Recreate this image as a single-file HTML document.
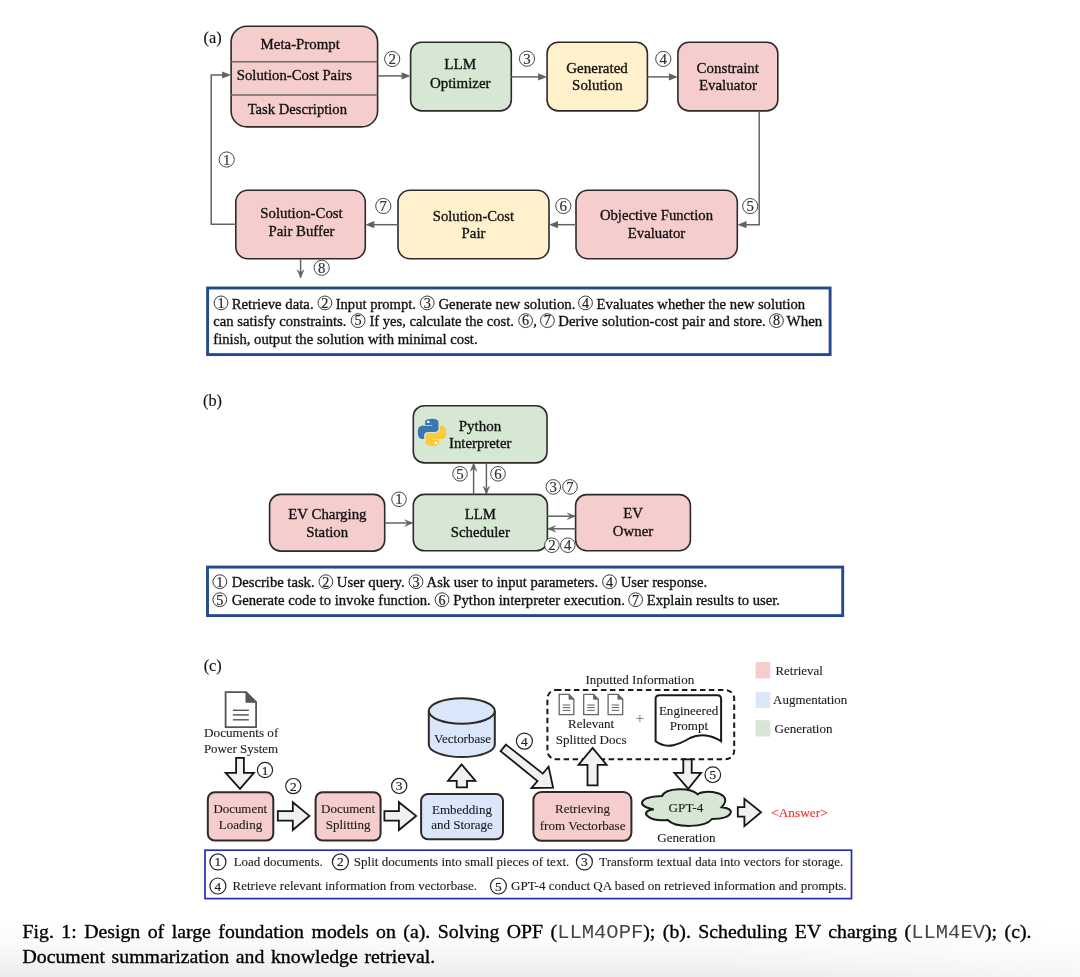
<!DOCTYPE html>
<html><head><meta charset="utf-8"><style>
html,body{margin:0;padding:0;}
body{width:1080px;height:977px;overflow:hidden;position:relative;background:#fff;font-family:"Liberation Serif", serif;}
.shade{position:absolute;left:0;top:922px;width:1080px;height:55px;background:linear-gradient(to bottom,rgba(0,0,0,0) 0%,rgba(0,0,0,0.015) 35%,rgba(0,0,0,0.045) 70%,rgba(0,0,0,0.08) 100%);-webkit-mask-image:linear-gradient(to right,#000 0%,#000 65%,rgba(0,0,0,0.45) 100%);}
svg{position:absolute;left:0;top:0;font-family:"Liberation Serif", serif;will-change:transform;}
.cap{position:absolute;left:22.5px;top:920.4px;width:1009px;font-size:19.8px;line-height:22.8px;word-spacing:1.7px;text-align:justify;color:#000;font-family:"Liberation Serif", serif;-webkit-text-stroke:0.35px #000;}
.mono{font-family:"Liberation Mono",monospace;color:#444;font-size:20.5px;-webkit-text-stroke:0;}
</style></head><body>
<div class="shade"></div>
<svg width="1080" height="977" viewBox="0 0 1080 977">
<text x="203.6" y="43.1" font-size="16.3" text-anchor="start" fill="#111" stroke="#111" stroke-width="0.15">(a)</text>
<rect x="231.1" y="26.2" width="146.5" height="100.7" rx="16" fill="#f5cdcd" stroke="#2e2a2a" stroke-width="1.6"/>
<line x1="231.1" y1="61.8" x2="377.6" y2="61.8" stroke="#6a6a6a" stroke-width="1.5"/>
<line x1="231.1" y1="95" x2="377.6" y2="95" stroke="#6a6a6a" stroke-width="1.5"/>
<text x="260.6" y="48.7" font-size="14.8" text-anchor="start" fill="#111" stroke="#111" stroke-width="0.32" textLength="79.3" lengthAdjust="spacingAndGlyphs">Meta-Prompt</text>
<text x="236.8" y="79.8" font-size="14.8" text-anchor="start" fill="#111" stroke="#111" stroke-width="0.32" textLength="115.1" lengthAdjust="spacingAndGlyphs">Solution-Cost Pairs</text>
<text x="247.7" y="114.1" font-size="14.8" text-anchor="start" fill="#111" stroke="#111" stroke-width="0.32" textLength="99.3" lengthAdjust="spacingAndGlyphs">Task Description</text>
<rect x="410.6" y="42.3" width="100.7" height="68.6" rx="11" fill="#d6e7d4" stroke="#2e2a2a" stroke-width="1.6"/>
<text x="444.3" y="69.4" font-size="14.8" text-anchor="start" fill="#111" stroke="#111" stroke-width="0.32" textLength="31.9" lengthAdjust="spacingAndGlyphs">LLM</text>
<text x="429.9" y="87.5" font-size="14.8" text-anchor="start" fill="#111" stroke="#111" stroke-width="0.32" textLength="60.7" lengthAdjust="spacingAndGlyphs">Optimizer</text>
<rect x="547.1" y="42.3" width="100.3" height="68.6" rx="11" fill="#fff1cc" stroke="#2e2a2a" stroke-width="1.6"/>
<text x="566.3" y="73.0" font-size="14.8" text-anchor="start" fill="#111" stroke="#111" stroke-width="0.32" textLength="61.5" lengthAdjust="spacingAndGlyphs">Generated</text>
<text x="572.1" y="90.3" font-size="14.8" text-anchor="start" fill="#111" stroke="#111" stroke-width="0.32" textLength="50.5" lengthAdjust="spacingAndGlyphs">Solution</text>
<rect x="677.9" y="42.3" width="99.9" height="68.6" rx="11" fill="#f5cdcd" stroke="#2e2a2a" stroke-width="1.6"/>
<text x="696.6" y="73.0" font-size="14.8" text-anchor="start" fill="#111" stroke="#111" stroke-width="0.32" textLength="62.4" lengthAdjust="spacingAndGlyphs">Constraint</text>
<text x="698.9" y="90.3" font-size="14.8" text-anchor="start" fill="#111" stroke="#111" stroke-width="0.32" textLength="58.1" lengthAdjust="spacingAndGlyphs">Evaluator</text>
<polyline points="377.6,75.9 403.0,75.9" fill="none" stroke="#636363" stroke-width="1.5"/>
<polygon points="410.6,75.9 401.6,72.3 401.6,79.5" fill="#636363" stroke="none"/>
<polyline points="511.3,76.9 540.0,76.9" fill="none" stroke="#636363" stroke-width="1.5"/>
<polygon points="547.1,76.9 538.1,73.3 538.1,80.5" fill="#636363" stroke="none"/>
<polyline points="647.4,76.9 671.0,76.9" fill="none" stroke="#636363" stroke-width="1.5"/>
<polygon points="677.9,76.9 668.9,73.3 668.9,80.5" fill="#636363" stroke="none"/>
<circle cx="392.2" cy="59.0" r="7.6" fill="#fff" stroke="#333" stroke-width="0.9"/>
<text x="392.2" y="64.0" font-size="14.8" text-anchor="middle" fill="#333" stroke="#333" stroke-width="0.2">2</text>
<circle cx="527.0" cy="58.7" r="7.6" fill="#fff" stroke="#333" stroke-width="0.9"/>
<text x="527.0" y="63.7" font-size="14.8" text-anchor="middle" fill="#333" stroke="#333" stroke-width="0.2">3</text>
<circle cx="663.3" cy="58.9" r="7.6" fill="#fff" stroke="#333" stroke-width="0.9"/>
<text x="663.3" y="63.9" font-size="14.8" text-anchor="middle" fill="#333" stroke="#333" stroke-width="0.2">4</text>
<rect x="235.8" y="190.2" width="129.5" height="68.6" rx="12" fill="#f5cdcd" stroke="#2e2a2a" stroke-width="1.6"/>
<text x="260.3" y="218.1" font-size="14.8" text-anchor="start" fill="#111" stroke="#111" stroke-width="0.32" textLength="82.4" lengthAdjust="spacingAndGlyphs">Solution-Cost</text>
<text x="301.5" y="235.6" font-size="14.8" text-anchor="middle" fill="#111" stroke="#111" stroke-width="0.32">Pair Buffer</text>
<rect x="398.0" y="190.2" width="151.0" height="68.6" rx="12" fill="#fff1cc" stroke="#2e2a2a" stroke-width="1.6"/>
<text x="432.8" y="221.0" font-size="14.8" text-anchor="start" fill="#111" stroke="#111" stroke-width="0.32" textLength="81.3" lengthAdjust="spacingAndGlyphs">Solution-Cost</text>
<text x="473.5" y="238.4" font-size="14.8" text-anchor="middle" fill="#111" stroke="#111" stroke-width="0.32">Pair</text>
<rect x="576.0" y="190.2" width="161.3" height="68.6" rx="12" fill="#f5cdcd" stroke="#2e2a2a" stroke-width="1.6"/>
<text x="599.9" y="220.2" font-size="14.8" text-anchor="start" fill="#111" stroke="#111" stroke-width="0.32" textLength="113.1" lengthAdjust="spacingAndGlyphs">Objective Function</text>
<text x="656.5" y="238.0" font-size="14.8" text-anchor="middle" fill="#111" stroke="#111" stroke-width="0.32">Evaluator</text>
<polyline points="759.2,110.9 759.2,224.7 743.0,224.7" fill="none" stroke="#636363" stroke-width="1.5"/>
<polygon points="737.5,224.7 746.5,221.1 746.5,228.3" fill="#636363" stroke="none"/>
<polyline points="576.0,224.7 555.0,224.7" fill="none" stroke="#636363" stroke-width="1.5"/>
<polygon points="549.0,224.7 558.0,221.1 558.0,228.3" fill="#636363" stroke="none"/>
<polyline points="398.0,224.7 371.0,224.7" fill="none" stroke="#636363" stroke-width="1.5"/>
<polygon points="365.3,224.7 374.3,221.1 374.3,228.3" fill="#636363" stroke="none"/>
<polyline points="235.8,224.2 211.2,224.2 211.2,75.0 225.0,75.0" fill="none" stroke="#636363" stroke-width="1.5"/>
<polygon points="231.1,75.0 222.1,71.4 222.1,78.6" fill="#636363" stroke="none"/>
<polyline points="300.6,259.0 300.6,277.5" fill="none" stroke="#636363" stroke-width="1.5"/>
<polygon points="300.6,277.8 297.2,269.8 300.6,272.8 304.0,269.8" fill="#636363" stroke="#636363" stroke-width="0.5" stroke-linejoin="miter"/>
<circle cx="750.2" cy="206.1" r="7.6" fill="#fff" stroke="#333" stroke-width="0.9"/>
<text x="750.2" y="211.1" font-size="14.8" text-anchor="middle" fill="#333" stroke="#333" stroke-width="0.2">5</text>
<circle cx="563.3" cy="206.0" r="7.6" fill="#fff" stroke="#333" stroke-width="0.9"/>
<text x="563.3" y="211.0" font-size="14.8" text-anchor="middle" fill="#333" stroke="#333" stroke-width="0.2">6</text>
<circle cx="383.3" cy="206.0" r="7.6" fill="#fff" stroke="#333" stroke-width="0.9"/>
<text x="383.3" y="211.0" font-size="14.8" text-anchor="middle" fill="#333" stroke="#333" stroke-width="0.2">7</text>
<circle cx="226.7" cy="159.5" r="7.6" fill="#fff" stroke="#333" stroke-width="0.9"/>
<text x="226.7" y="164.5" font-size="14.8" text-anchor="middle" fill="#333" stroke="#333" stroke-width="0.2">1</text>
<circle cx="321.7" cy="267.8" r="7.6" fill="#fff" stroke="#333" stroke-width="0.9"/>
<text x="321.7" y="272.8" font-size="14.8" text-anchor="middle" fill="#333" stroke="#333" stroke-width="0.2">8</text>
<rect x="207.6" y="288" width="622.5" height="66.6" fill="none" stroke="#24498f" stroke-width="2.9"/>
<circle cx="221.0" cy="302.9" r="6.9" fill="#fff" stroke="#222" stroke-width="0.9"/>
<text x="221.0" y="307.7" font-size="14.2" text-anchor="middle" fill="#222" stroke="#222" stroke-width="0.2">1</text>
<text x="231.7" y="308.5" font-size="14.6" text-anchor="start" fill="#111" stroke="#111" stroke-width="0.32" textLength="81.9" lengthAdjust="spacingAndGlyphs">Retrieve data.</text>
<circle cx="324.9" cy="302.9" r="6.9" fill="#fff" stroke="#222" stroke-width="0.9"/>
<text x="324.9" y="307.7" font-size="14.2" text-anchor="middle" fill="#222" stroke="#222" stroke-width="0.2">2</text>
<text x="335.7" y="308.5" font-size="14.6" text-anchor="start" fill="#111" stroke="#111" stroke-width="0.32" textLength="80.3" lengthAdjust="spacingAndGlyphs">Input prompt.</text>
<circle cx="427.2" cy="302.9" r="6.9" fill="#fff" stroke="#222" stroke-width="0.9"/>
<text x="427.2" y="307.7" font-size="14.2" text-anchor="middle" fill="#222" stroke="#222" stroke-width="0.2">3</text>
<text x="438.4" y="308.5" font-size="14.6" text-anchor="start" fill="#111" stroke="#111" stroke-width="0.32" textLength="137.1" lengthAdjust="spacingAndGlyphs">Generate new solution.</text>
<circle cx="585.5" cy="302.9" r="6.9" fill="#fff" stroke="#222" stroke-width="0.9"/>
<text x="585.5" y="307.7" font-size="14.2" text-anchor="middle" fill="#222" stroke="#222" stroke-width="0.2">4</text>
<text x="596.6" y="308.5" font-size="14.6" text-anchor="start" fill="#111" stroke="#111" stroke-width="0.32" textLength="208.6" lengthAdjust="spacingAndGlyphs">Evaluates whether the new solution</text>
<text x="213.3" y="325.9" font-size="14.6" text-anchor="start" fill="#111" stroke="#111" stroke-width="0.32" textLength="133.2" lengthAdjust="spacingAndGlyphs">can satisfy constraints.</text>
<circle cx="358.1" cy="320.6" r="6.9" fill="#fff" stroke="#222" stroke-width="0.9"/>
<text x="358.1" y="325.4" font-size="14.2" text-anchor="middle" fill="#222" stroke="#222" stroke-width="0.2">5</text>
<text x="369.4" y="325.9" font-size="14.6" text-anchor="start" fill="#111" stroke="#111" stroke-width="0.32" textLength="144.5" lengthAdjust="spacingAndGlyphs">If yes, calculate the cost.</text>
<circle cx="525.6" cy="320.6" r="6.9" fill="#fff" stroke="#222" stroke-width="0.9"/>
<text x="525.6" y="325.4" font-size="14.2" text-anchor="middle" fill="#222" stroke="#222" stroke-width="0.2">6</text>
<text x="533.3" y="325.9" font-size="14.6" text-anchor="start" fill="#111" stroke="#111" stroke-width="0.32">,</text>
<circle cx="547.4" cy="320.6" r="6.9" fill="#fff" stroke="#222" stroke-width="0.9"/>
<text x="547.4" y="325.4" font-size="14.2" text-anchor="middle" fill="#222" stroke="#222" stroke-width="0.2">7</text>
<text x="558.3" y="325.9" font-size="14.6" text-anchor="start" fill="#111" stroke="#111" stroke-width="0.32" textLength="207.5" lengthAdjust="spacingAndGlyphs">Derive solution-cost pair and store.</text>
<circle cx="776.5" cy="320.6" r="6.9" fill="#fff" stroke="#222" stroke-width="0.9"/>
<text x="776.5" y="325.4" font-size="14.2" text-anchor="middle" fill="#222" stroke="#222" stroke-width="0.2">8</text>
<text x="786.6" y="325.9" font-size="14.6" text-anchor="start" fill="#111" stroke="#111" stroke-width="0.32" textLength="35.7" lengthAdjust="spacingAndGlyphs">When</text>
<text x="213.3" y="343.7" font-size="14.6" text-anchor="start" fill="#111" stroke="#111" stroke-width="0.32" textLength="264.3" lengthAdjust="spacingAndGlyphs">finish, output the solution with minimal cost.</text>
<text x="203.0" y="405.5" font-size="16.3" text-anchor="start" fill="#111" stroke="#111" stroke-width="0.15">(b)</text>
<rect x="413.3" y="405.7" width="133.7" height="57.2" rx="11" fill="#d6e7d4" stroke="#2e2a2a" stroke-width="1.6"/>
<text x="458.7" y="430.6" font-size="14.8" text-anchor="start" fill="#111" stroke="#111" stroke-width="0.32" textLength="42.6" lengthAdjust="spacingAndGlyphs">Python</text>
<text x="449.0" y="448.3" font-size="14.8" text-anchor="start" fill="#111" stroke="#111" stroke-width="0.32" textLength="62.4" lengthAdjust="spacingAndGlyphs">Interpreter</text>
<g transform="translate(417.8,418.7) scale(0.285,0.274)">
<path d="M49.6 0C24 0 25.6 11.1 25.6 11.1l0 11.5h24.5v3.5H15.9C15.9 26.1 0 24.3 0 49.5c0 25.2 13.9 24.3 13.9 24.3h8.3V62.1s-.4-13.9 13.7-13.9h23.5s13.2.2 13.2-12.8V13.9S74.6 0 49.6 0zM36.5 7.5a4.3 4.3 0 1 1 0 8.6 4.3 4.3 0 0 1 0-8.6z" fill="#3a76b0"/>
<path d="M50.3 100c25.6 0 24-11.1 24-11.1l0-11.5H49.8v-3.5h34.2S100 75.7 100 50.5c0-25.2-13.9-24.3-13.9-24.3h-8.3v11.7s.4 13.9-13.7 13.9H40.6s-13.2-.2-13.2 12.8v21.5S25.4 100 50.3 100zm13.1-7.5a4.3 4.3 0 1 1 0-8.6 4.3 4.3 0 0 1 0 8.6z" fill="#fcc93a"/>
<circle cx="36.5" cy="11.8" r="4.3" fill="#fff"/><circle cx="63.4" cy="88.2" r="4.3" fill="#fff"/>
</g>
<rect x="269.6" y="494.4" width="115.1" height="56.7" rx="11" fill="#f5cdcd" stroke="#2e2a2a" stroke-width="1.6"/>
<text x="288.3" y="518.8" font-size="14.8" text-anchor="start" fill="#111" stroke="#111" stroke-width="0.32" textLength="78.2" lengthAdjust="spacingAndGlyphs">EV Charging</text>
<text x="327.2" y="536.6" font-size="14.8" text-anchor="middle" fill="#111" stroke="#111" stroke-width="0.32">Station</text>
<rect x="413.3" y="494.4" width="134.1" height="56.4" rx="11" fill="#d6e7d4" stroke="#2e2a2a" stroke-width="1.6"/>
<text x="480.3" y="518.8" font-size="14.8" text-anchor="middle" fill="#111" stroke="#111" stroke-width="0.32">LLM</text>
<text x="480.3" y="536.6" font-size="14.8" text-anchor="middle" fill="#111" stroke="#111" stroke-width="0.32">Scheduler</text>
<rect x="575.6" y="494.6" width="114.8" height="56.1" rx="11" fill="#f5cdcd" stroke="#2e2a2a" stroke-width="1.6"/>
<text x="633.0" y="518.3" font-size="14.8" text-anchor="middle" fill="#111" stroke="#111" stroke-width="0.32">EV</text>
<text x="633.0" y="536.3" font-size="14.8" text-anchor="middle" fill="#111" stroke="#111" stroke-width="0.32">Owner</text>
<polyline points="384.7,523.0 412.5,523.0" fill="none" stroke="#636363" stroke-width="1.5"/>
<polygon points="412.8,523.0 404.8,519.7 407.8,523.0 404.8,526.3" fill="#636363" stroke="#636363" stroke-width="0.5" stroke-linejoin="miter"/>
<polyline points="473.6,494.4 473.6,463.5" fill="none" stroke="#636363" stroke-width="1.5"/>
<polygon points="473.6,463.3 470.3,471.3 473.6,468.3 476.9,471.3" fill="#636363" stroke="#636363" stroke-width="0.5" stroke-linejoin="miter"/>
<polyline points="486.4,463.0 486.4,494.0" fill="none" stroke="#636363" stroke-width="1.5"/>
<polygon points="486.4,494.2 483.1,486.2 486.4,489.2 489.7,486.2" fill="#636363" stroke="#636363" stroke-width="0.5" stroke-linejoin="miter"/>
<polyline points="547.4,516.2 575.0,516.2" fill="none" stroke="#636363" stroke-width="1.5"/>
<polygon points="575.3,516.2 567.3,512.9 570.3,516.2 567.3,519.5" fill="#636363" stroke="#636363" stroke-width="0.5" stroke-linejoin="miter"/>
<polyline points="575.6,528.8 548.0,528.8" fill="none" stroke="#636363" stroke-width="1.5"/>
<polygon points="547.7,528.8 555.7,525.5 552.7,528.8 555.7,532.1" fill="#636363" stroke="#636363" stroke-width="0.5" stroke-linejoin="miter"/>
<circle cx="399.0" cy="499.3" r="7.3" fill="#fff" stroke="#333" stroke-width="0.9"/>
<text x="399.0" y="504.3" font-size="14.8" text-anchor="middle" fill="#333" stroke="#333" stroke-width="0.2">1</text>
<circle cx="460.0" cy="473.8" r="7.3" fill="#fff" stroke="#333" stroke-width="0.9"/>
<text x="460.0" y="478.8" font-size="14.8" text-anchor="middle" fill="#333" stroke="#333" stroke-width="0.2">5</text>
<circle cx="498.0" cy="473.8" r="7.3" fill="#fff" stroke="#333" stroke-width="0.9"/>
<text x="498.0" y="478.8" font-size="14.8" text-anchor="middle" fill="#333" stroke="#333" stroke-width="0.2">6</text>
<circle cx="553.3" cy="486.9" r="7.3" fill="#fff" stroke="#333" stroke-width="0.9"/>
<text x="553.3" y="491.9" font-size="14.8" text-anchor="middle" fill="#333" stroke="#333" stroke-width="0.2">3</text>
<circle cx="570.0" cy="486.9" r="7.3" fill="#fff" stroke="#333" stroke-width="0.9"/>
<text x="570.0" y="491.9" font-size="14.8" text-anchor="middle" fill="#333" stroke="#333" stroke-width="0.2">7</text>
<circle cx="551.9" cy="545.2" r="7.3" fill="#fff" stroke="#333" stroke-width="0.9"/>
<text x="551.9" y="550.2" font-size="14.8" text-anchor="middle" fill="#333" stroke="#333" stroke-width="0.2">2</text>
<circle cx="567.8" cy="545.2" r="7.3" fill="#fff" stroke="#333" stroke-width="0.9"/>
<text x="567.8" y="550.2" font-size="14.8" text-anchor="middle" fill="#333" stroke="#333" stroke-width="0.2">4</text>
<rect x="207.5" y="567.1" width="635.2" height="48.5" fill="none" stroke="#24498f" stroke-width="2.9"/>
<circle cx="219.8" cy="581.7" r="6.9" fill="#fff" stroke="#222" stroke-width="0.9"/>
<text x="219.8" y="586.5" font-size="14.2" text-anchor="middle" fill="#222" stroke="#222" stroke-width="0.2">1</text>
<text x="231.7" y="586.9" font-size="14.6" text-anchor="start" fill="#111" stroke="#111" stroke-width="0.32" textLength="82.9" lengthAdjust="spacingAndGlyphs">Describe task.</text>
<circle cx="325.9" cy="581.7" r="6.9" fill="#fff" stroke="#222" stroke-width="0.9"/>
<text x="325.9" y="586.5" font-size="14.2" text-anchor="middle" fill="#222" stroke="#222" stroke-width="0.2">2</text>
<text x="336.8" y="586.9" font-size="14.6" text-anchor="start" fill="#111" stroke="#111" stroke-width="0.32" textLength="67.9" lengthAdjust="spacingAndGlyphs">User query.</text>
<circle cx="416.0" cy="581.7" r="6.9" fill="#fff" stroke="#222" stroke-width="0.9"/>
<text x="416.0" y="586.5" font-size="14.2" text-anchor="middle" fill="#222" stroke="#222" stroke-width="0.2">3</text>
<text x="426.6" y="586.9" font-size="14.6" text-anchor="start" fill="#111" stroke="#111" stroke-width="0.32" textLength="171.6" lengthAdjust="spacingAndGlyphs">Ask user to input parameters.</text>
<circle cx="609.5" cy="581.7" r="6.9" fill="#fff" stroke="#222" stroke-width="0.9"/>
<text x="609.5" y="586.5" font-size="14.2" text-anchor="middle" fill="#222" stroke="#222" stroke-width="0.2">4</text>
<text x="620.7" y="586.9" font-size="14.6" text-anchor="start" fill="#111" stroke="#111" stroke-width="0.32" textLength="86.6" lengthAdjust="spacingAndGlyphs">User response.</text>
<circle cx="219.8" cy="599.7" r="6.9" fill="#fff" stroke="#222" stroke-width="0.9"/>
<text x="219.8" y="604.5" font-size="14.2" text-anchor="middle" fill="#222" stroke="#222" stroke-width="0.2">5</text>
<text x="231.7" y="604.8" font-size="14.6" text-anchor="start" fill="#111" stroke="#111" stroke-width="0.32" textLength="199.1" lengthAdjust="spacingAndGlyphs">Generate code to invoke function.</text>
<circle cx="442.0" cy="599.7" r="6.9" fill="#fff" stroke="#222" stroke-width="0.9"/>
<text x="442.0" y="604.5" font-size="14.2" text-anchor="middle" fill="#222" stroke="#222" stroke-width="0.2">6</text>
<text x="453.3" y="604.8" font-size="14.6" text-anchor="start" fill="#111" stroke="#111" stroke-width="0.32" textLength="171.6" lengthAdjust="spacingAndGlyphs">Python interpreter execution.</text>
<circle cx="635.6" cy="599.7" r="6.9" fill="#fff" stroke="#222" stroke-width="0.9"/>
<text x="635.6" y="604.5" font-size="14.2" text-anchor="middle" fill="#222" stroke="#222" stroke-width="0.2">7</text>
<text x="646.8" y="604.8" font-size="14.6" text-anchor="start" fill="#111" stroke="#111" stroke-width="0.32" textLength="133.1" lengthAdjust="spacingAndGlyphs">Explain results to user.</text>
<text x="203.7" y="670.7" font-size="16.3" text-anchor="start" fill="#111" stroke="#111" stroke-width="0.15">(c)</text>
<path d="M225.6 692.1 H246.0 L256.1 702.2 V727.1 H225.6 Z" fill="#fff" stroke="#555" stroke-width="1.8"/>
<path d="M246.0 692.1 L256.1 702.2 H246.0 Z" fill="#555" stroke="#555" stroke-width="1.08"/>
<line x1="232.9" y1="710.3" x2="248.8" y2="710.3" stroke="#555" stroke-width="1.4400000000000002"/>
<line x1="232.9" y1="714.9" x2="248.8" y2="714.9" stroke="#555" stroke-width="1.4400000000000002"/>
<line x1="232.9" y1="719.8" x2="248.8" y2="719.8" stroke="#555" stroke-width="1.4400000000000002"/>
<text x="204.1" y="737.3" font-size="13" text-anchor="start" fill="#1c1c1c" stroke="#1c1c1c" stroke-width="0.12" textLength="74.2" lengthAdjust="spacingAndGlyphs">Documents of</text>
<text x="203.9" y="753.0" font-size="13" text-anchor="start" fill="#1c1c1c" stroke="#1c1c1c" stroke-width="0.12" textLength="74.1" lengthAdjust="spacingAndGlyphs">Power System</text>
<polygon points="236.1,757.8 243.9,757.8 243.9,772.8 253.9,772.8 240.0,788.9 225.6,772.8 236.1,772.8" fill="#f1f1f1" stroke="#151515" stroke-width="1.8" stroke-linejoin="miter"/>
<circle cx="265.0" cy="770.0" r="7.6" fill="#fff" stroke="#222" stroke-width="1.2"/>
<text x="265.0" y="774.5" font-size="13.3" text-anchor="middle" fill="#222" stroke="#222" stroke-width="0.2">1</text>
<rect x="207.8" y="792.2" width="65.5" height="48.4" rx="7" fill="#f5cdcd" stroke="#2e2a2a" stroke-width="2"/>
<text x="213.4" y="813.3" font-size="13" text-anchor="start" fill="#1c1c1c" stroke="#1c1c1c" stroke-width="0.12" textLength="53.8" lengthAdjust="spacingAndGlyphs">Document</text>
<text x="240.5" y="829.4" font-size="13" text-anchor="middle" fill="#1c1c1c" stroke="#1c1c1c" stroke-width="0.12">Loading</text>
<polygon points="277.8,811.1 292.8,811.1 292.8,802.2 309.4,815.9 292.8,830.0 292.8,820.6 277.8,820.6" fill="#f1f1f1" stroke="#151515" stroke-width="1.8" stroke-linejoin="miter"/>
<circle cx="293.3" cy="786.1" r="7.6" fill="#fff" stroke="#222" stroke-width="1.2"/>
<text x="293.3" y="790.6" font-size="13.3" text-anchor="middle" fill="#222" stroke="#222" stroke-width="0.2">2</text>
<rect x="315.6" y="792.2" width="65.0" height="48.4" rx="7" fill="#f5cdcd" stroke="#2e2a2a" stroke-width="2"/>
<text x="348.1" y="812.8" font-size="13" text-anchor="middle" fill="#1c1c1c" stroke="#1c1c1c" stroke-width="0.12">Document</text>
<text x="348.1" y="828.9" font-size="13" text-anchor="middle" fill="#1c1c1c" stroke="#1c1c1c" stroke-width="0.12">Splitting</text>
<polygon points="384.4,811.1 398.9,811.1 398.9,802.2 416.1,815.9 398.9,830.0 398.9,820.6 384.4,820.6" fill="#f1f1f1" stroke="#151515" stroke-width="1.8" stroke-linejoin="miter"/>
<circle cx="399.2" cy="785.9" r="7.6" fill="#fff" stroke="#222" stroke-width="1.2"/>
<text x="399.2" y="790.4" font-size="13.3" text-anchor="middle" fill="#222" stroke="#222" stroke-width="0.2">3</text>
<rect x="421.1" y="794.0" width="81.9" height="45.3" rx="7" fill="#dae7fb" stroke="#2e2a2a" stroke-width="2"/>
<text x="462.0" y="813.6" font-size="13" text-anchor="middle" fill="#1c1c1c" stroke="#1c1c1c" stroke-width="0.12">Embedding</text>
<text x="462.0" y="829.2" font-size="13" text-anchor="middle" fill="#1c1c1c" stroke="#1c1c1c" stroke-width="0.12">and Storage</text>
<polygon points="456.7,787.4 456.7,780.9 448.0,780.9 461.6,764.5 475.5,780.9 467.0,780.9 467.0,787.4" fill="#f1f1f1" stroke="#151515" stroke-width="1.8" stroke-linejoin="miter"/>
<path d="M428.8 711 V744.4 A33 12.7 0 0 0 494.8 744.4 V711" fill="#dae7fb" stroke="#2e2a2a" stroke-width="2"/>
<ellipse cx="461.8" cy="711" rx="33" ry="12.7" fill="#dae7fb" stroke="#2e2a2a" stroke-width="2"/>
<text x="434.1" y="743.2" font-size="13" text-anchor="start" fill="#1c1c1c" stroke="#1c1c1c" stroke-width="0.12" textLength="56.9" lengthAdjust="spacingAndGlyphs">Vectorbase</text>
<polygon points="506.0,744.6 542.8,773.6 548.6,766.7 553.1,787.6 531.4,788.0 537.5,781.0 500.6,751.1" fill="#f1f1f1" stroke="#151515" stroke-width="1.8" stroke-linejoin="miter"/>
<circle cx="524.4" cy="741.1" r="8" fill="#fff" stroke="#222" stroke-width="1.2"/>
<text x="524.4" y="745.6" font-size="13.3" text-anchor="middle" fill="#222" stroke="#222" stroke-width="0.2">4</text>
<rect x="533.4" y="792.0" width="98.0" height="48.8" rx="8" fill="#f5cdcd" stroke="#2e2a2a" stroke-width="2"/>
<text x="582.5" y="813.2" font-size="13" text-anchor="middle" fill="#1c1c1c" stroke="#1c1c1c" stroke-width="0.12">Retrieving</text>
<text x="539.7" y="829.5" font-size="13" text-anchor="start" fill="#1c1c1c" stroke="#1c1c1c" stroke-width="0.12" textLength="85.8" lengthAdjust="spacingAndGlyphs">from Vectorbase</text>
<rect x="547.4" y="690.1" width="186.8" height="69.1" rx="8.5" fill="none" stroke="#1a1a1a" stroke-width="2" stroke-dasharray="5.5 3.5"/>
<polygon points="587.5,785.3 587.5,764.8 578.5,764.8 592.6,747.9 606.6,764.8 597.6,764.8 597.6,785.3" fill="#f1f1f1" stroke="#151515" stroke-width="1.8" stroke-linejoin="miter"/>
<text x="585.5" y="683.9" font-size="13" text-anchor="start" fill="#1c1c1c" stroke="#1c1c1c" stroke-width="0.12" textLength="108.7" lengthAdjust="spacingAndGlyphs">Inputted Information</text>
<path d="M559.2 694.4 H569.0 L573.8 699.2 V714.7 H559.2 Z" fill="#fff" stroke="#666" stroke-width="1.3"/>
<path d="M569.0 694.4 L573.8 699.2 H569.0 Z" fill="#666" stroke="#666" stroke-width="0.78"/>
<line x1="562.7" y1="705.0" x2="570.3" y2="705.0" stroke="#666" stroke-width="1.04"/>
<line x1="562.7" y1="707.6" x2="570.3" y2="707.6" stroke="#666" stroke-width="1.04"/>
<line x1="562.7" y1="710.4" x2="570.3" y2="710.4" stroke="#666" stroke-width="1.04"/>
<path d="M583.7 694.4 H593.5 L598.3 699.2 V714.7 H583.7 Z" fill="#fff" stroke="#666" stroke-width="1.3"/>
<path d="M593.5 694.4 L598.3 699.2 H593.5 Z" fill="#666" stroke="#666" stroke-width="0.78"/>
<line x1="587.2" y1="705.0" x2="594.8" y2="705.0" stroke="#666" stroke-width="1.04"/>
<line x1="587.2" y1="707.6" x2="594.8" y2="707.6" stroke="#666" stroke-width="1.04"/>
<line x1="587.2" y1="710.4" x2="594.8" y2="710.4" stroke="#666" stroke-width="1.04"/>
<path d="M608.1 694.4 H617.9 L622.7 699.2 V714.7 H608.1 Z" fill="#fff" stroke="#666" stroke-width="1.3"/>
<path d="M617.9 694.4 L622.7 699.2 H617.9 Z" fill="#666" stroke="#666" stroke-width="0.78"/>
<line x1="611.6" y1="705.0" x2="619.2" y2="705.0" stroke="#666" stroke-width="1.04"/>
<line x1="611.6" y1="707.6" x2="619.2" y2="707.6" stroke="#666" stroke-width="1.04"/>
<line x1="611.6" y1="710.4" x2="619.2" y2="710.4" stroke="#666" stroke-width="1.04"/>
<text x="568.0" y="727.6" font-size="13" text-anchor="start" fill="#1c1c1c" stroke="#1c1c1c" stroke-width="0.12" textLength="46.2" lengthAdjust="spacingAndGlyphs">Relevant</text>
<text x="555.7" y="744.0" font-size="13" text-anchor="start" fill="#1c1c1c" stroke="#1c1c1c" stroke-width="0.12" textLength="70.8" lengthAdjust="spacingAndGlyphs">Splitted Docs</text>
<line x1="636.3" y1="718.5" x2="643.5" y2="718.5" stroke="#777" stroke-width="0.9"/><line x1="639.9" y1="714.9" x2="639.9" y2="722.1" stroke="#777" stroke-width="0.9"/>
<path d="M655.6 741.3 V699 Q655.6 695.2 659.4 695.2 H717.3 Q721.1 695.2 721.1 699 V741.3 C712 735 700 733 690 738 C680 744 667 750 655.6 741.3 Z" fill="#fff" stroke="#1a1a1a" stroke-width="2"/>
<text x="658.9" y="715.0" font-size="13" text-anchor="start" fill="#1c1c1c" stroke="#1c1c1c" stroke-width="0.12" textLength="59.4" lengthAdjust="spacingAndGlyphs">Engineered</text>
<text x="669.7" y="730.0" font-size="13" text-anchor="start" fill="#1c1c1c" stroke="#1c1c1c" stroke-width="0.12" textLength="38.4" lengthAdjust="spacingAndGlyphs">Prompt</text>
<polygon points="683.3,759.4 691.7,759.4 691.7,772.8 701.1,772.8 688.3,788.9 674.4,772.8 683.3,772.8" fill="#f1f1f1" stroke="#151515" stroke-width="1.8" stroke-linejoin="miter"/>
<circle cx="712.8" cy="774.7" r="7.8" fill="#fff" stroke="#222" stroke-width="1.2"/>
<text x="712.8" y="779.2" font-size="13.3" text-anchor="middle" fill="#222" stroke="#222" stroke-width="0.2">5</text>
<path d="M653.8 809.5 C636 806 638 797 662 796 C666 787.5 690 787 697.7 794.3 C703 789 736 792 721.7 807.2 C736 808 734 819 712 819 C705 828 675 828 667.8 820 C648 822 638 811 653.8 809.5 Z" fill="#d6e7d4" stroke="#1a1a1a" stroke-width="2"/>
<text x="668.6" y="812.2" font-size="13" text-anchor="start" fill="#1c1c1c" stroke="#1c1c1c" stroke-width="0.12" textLength="34.7" lengthAdjust="spacingAndGlyphs">GPT-4</text>
<text x="657.3" y="842.2" font-size="13" text-anchor="start" fill="#1c1c1c" stroke="#1c1c1c" stroke-width="0.12" textLength="58.2" lengthAdjust="spacingAndGlyphs">Generation</text>
<polygon points="737.8,807.2 744.4,807.2 744.4,798.9 761.1,812.2 744.4,826.1 744.4,816.7 737.8,816.7" fill="#f1f1f1" stroke="#151515" stroke-width="1.8" stroke-linejoin="miter"/>
<text x="771.2" y="816.7" font-size="13" text-anchor="start" fill="#ff2a2a" stroke="#ff2a2a" stroke-width="0.12" textLength="56.5" lengthAdjust="spacingAndGlyphs">&lt;Answer&gt;</text>
<rect x="755.6" y="662.1" width="14.6" height="16.3" fill="#f5cdcd"/>
<rect x="755.6" y="692.2" width="14.6" height="15.8" fill="#dae7fb"/>
<rect x="755.6" y="720.2" width="14.6" height="16.3" fill="#d6e7d4"/>
<text x="775.5" y="674.9" font-size="13" text-anchor="start" fill="#1c1c1c" stroke="#1c1c1c" stroke-width="0.12" textLength="47.3" lengthAdjust="spacingAndGlyphs">Retrieval</text>
<text x="773.1" y="704.4" font-size="13" text-anchor="start" fill="#1c1c1c" stroke="#1c1c1c" stroke-width="0.12" textLength="74.1" lengthAdjust="spacingAndGlyphs">Augmentation</text>
<text x="774.5" y="732.6" font-size="13" text-anchor="start" fill="#1c1c1c" stroke="#1c1c1c" stroke-width="0.12" textLength="58.0" lengthAdjust="spacingAndGlyphs">Generation</text>
<rect x="205" y="850.2" width="646.5" height="48.4" fill="none" stroke="#2b2bb0" stroke-width="1.7"/>
<circle cx="217.9" cy="861.9" r="8" fill="#fff" stroke="#222" stroke-width="1.2"/>
<text x="217.9" y="866.4" font-size="13.3" text-anchor="middle" fill="#222" stroke="#222" stroke-width="0.2">1</text>
<text x="233.7" y="866.3" font-size="13" text-anchor="start" fill="#1c1c1c" stroke="#1c1c1c" stroke-width="0.12" textLength="89.0" lengthAdjust="spacingAndGlyphs">Load documents.</text>
<circle cx="340.4" cy="861.9" r="8" fill="#fff" stroke="#222" stroke-width="1.2"/>
<text x="340.4" y="866.4" font-size="13.3" text-anchor="middle" fill="#222" stroke="#222" stroke-width="0.2">2</text>
<text x="353.8" y="866.3" font-size="13" text-anchor="start" fill="#1c1c1c" stroke="#1c1c1c" stroke-width="0.12" textLength="215.5" lengthAdjust="spacingAndGlyphs">Split documents into small pieces of text.</text>
<circle cx="584.4" cy="861.9" r="8" fill="#fff" stroke="#222" stroke-width="1.2"/>
<text x="584.4" y="866.4" font-size="13.3" text-anchor="middle" fill="#222" stroke="#222" stroke-width="0.2">3</text>
<text x="599.2" y="866.3" font-size="13" text-anchor="start" fill="#1c1c1c" stroke="#1c1c1c" stroke-width="0.12" textLength="244.0" lengthAdjust="spacingAndGlyphs">Transform textual data into vectors for storage.</text>
<circle cx="217.9" cy="886.0" r="8" fill="#fff" stroke="#222" stroke-width="1.2"/>
<text x="217.9" y="890.5" font-size="13.3" text-anchor="middle" fill="#222" stroke="#222" stroke-width="0.2">4</text>
<text x="232.5" y="890.4" font-size="13" text-anchor="start" fill="#1c1c1c" stroke="#1c1c1c" stroke-width="0.12" textLength="244.5" lengthAdjust="spacingAndGlyphs">Retrieve relevant information from vectorbase.</text>
<circle cx="498.4" cy="886.0" r="8" fill="#fff" stroke="#222" stroke-width="1.2"/>
<text x="498.4" y="890.5" font-size="13.3" text-anchor="middle" fill="#222" stroke="#222" stroke-width="0.2">5</text>
<text x="511.1" y="890.4" font-size="13" text-anchor="start" fill="#1c1c1c" stroke="#1c1c1c" stroke-width="0.12" textLength="335.8" lengthAdjust="spacingAndGlyphs">GPT-4 conduct QA based on retrieved information and prompts.</text>
</svg>
<div class="cap">Fig. 1: Design of large foundation models on (a). Solving OPF (<span class="mono">LLM4OPF</span>); (b). Scheduling EV charging (<span class="mono">LLM4EV</span>); (c). Document summarization and knowledge retrieval.</div>
</body></html>
